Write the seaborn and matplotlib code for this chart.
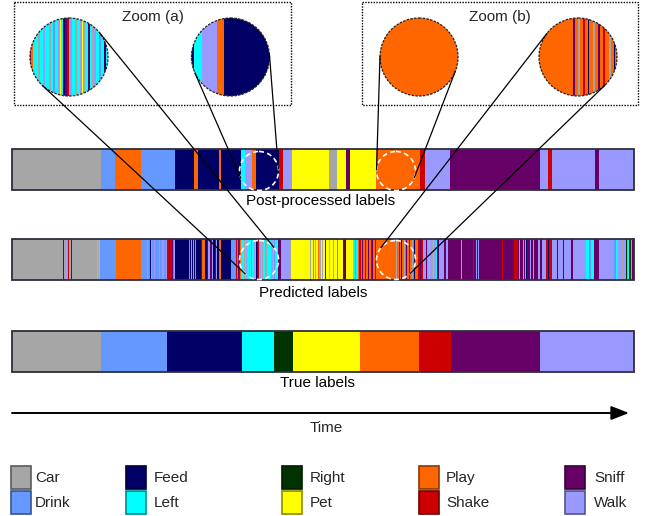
import numpy as np
import matplotlib
matplotlib.use("Agg")
import matplotlib.pyplot as plt
from matplotlib.patches import Circle, Rectangle
import seaborn as sns

sns.set_theme(style="white")
plt.rcParams["font.family"] = ["Liberation Sans", "DejaVu Sans"]

# ---------------------------------------------------------------- data
activities = ["Car", "Drink", "Feed", "Left", "Right",
              "Pet", "Play", "Shake", "Sniff", "Walk"]
activity_colors = ["#A6A6A6", "#6699FF", "#000066", "#00FFFF", "#003300",
                   "#FFFF00", "#FF6600", "#CC0000", "#660066", "#9999FF"]
n_frames = 622

# ground truth: one segment per activity (label, first frame)
true_labels = ["Car", "Drink", "Feed", "Left", "Right",
               "Pet", "Play", "Shake", "Sniff", "Walk"]
true_starts = [0, 89, 155, 230, 262, 281, 348, 407, 439, 528]

# smoothed classifier output
post_labels = ["Car", "Drink", "Play", "Drink", "Feed", "Play", "Feed", "Play",
               "Feed", "Left", "Walk", "Play", "Feed", "Shake", "Walk", "Pet",
               "Car", "Pet", "Sniff", "Pet", "Play", "Shake", "Walk", "Sniff",
               "Walk", "Shake", "Walk", "Sniff", "Walk"]
post_starts = [0, 89, 103, 128.5, 162.5, 182, 186, 207,
               209, 228.5, 232.5, 240, 243.5, 266.5, 271, 280,
               317, 324.5, 334, 338, 364, 408, 413, 438,
               528, 535.5, 539.5, 583, 587]

# raw frame-wise classifier output
pred_labels = [
    "Car", "Sniff", "Car", "Walk", "Car", "Shake", "Car", "Sniff", "Car",
    "Left", "Car", "Left", "Drink", "Play", "Drink",
    "Walk", "Drink", "Feed", "Walk", "Drink", "Walk", "Drink", "Feed", "Drink", "Walk", "Drink", "Walk", "Drink", "Walk",
    "Shake", "Sniff", "Play", "Shake", "Sniff", "Play", "Walk",
    "Feed", "Drink", "Feed", "Walk", "Feed", "Car", "Feed", "Drink", "Feed",
    "Sniff", "Play", "Feed", "Sniff", "Walk", "Sniff", "Walk", "Feed", "Sniff", "Walk", "Feed", "Play", "Feed",
    "Drink", "Shake", "Play", "Sniff", "Shake", "Play", "Left",
    "Car", "Left", "Walk", "Left", "Car", "Left", "Drink", "Left", "Walk", "Pet", "Left", "Feed", "Sniff", "Shake",
    "Walk", "Left", "Car", "Left", "Walk", "Pet", "Car", "Left", "Sniff", "Left", "Car", "Walk", "Left", "Drink",
    "Left", "Feed", "Left",
    "Sniff", "Shake", "Sniff", "Walk", "Car", "Pet",
    "Car", "Pet", "Play", "Pet", "Car", "Pet", "Play", "Car", "Pet", "Car", "Pet", "Sniff", "Pet", "Left", "Pet",
    "Car", "Pet", "Play", "Pet", "Sniff", "Pet",
    "Left", "Play", "Left", "Play", "Shake", "Play", "Sniff", "Play", "Shake", "Play", "Sniff", "Play", "Shake",
    "Sniff", "Play", "Shake", "Play",
    "Sniff", "Play", "Car", "Play", "Shake", "Play", "Feed", "Play", "Car", "Play", "Sniff", "Play", "Shake",
    "Play", "Car", "Play", "Feed", "Play",
    "Shake", "Sniff", "Shake",
    "Walk", "Sniff", "Walk", "Left", "Walk", "Car", "Left", "Walk", "Left", "Sniff", "Walk", "Car", "Walk",
    "Sniff", "Walk", "Sniff",
    "Walk", "Sniff", "Shake", "Sniff", "Walk", "Sniff", "Walk", "Sniff",
    "Walk", "Sniff", "Shake", "Sniff", "Shake", "Sniff", "Walk", "Sniff", "Walk", "Sniff", "Walk", "Feed",
    "Sniff", "Walk", "Sniff", "Walk", "Sniff", "Walk", "Sniff", "Walk",
    "Shake", "Feed", "Shake", "Walk", "Sniff", "Walk", "Sniff", "Walk", "Sniff", "Walk",
    "Left", "Drink", "Left", "Sniff", "Walk", "Drink", "Left", "Walk", "Car", "Walk", "Car", "Right",
    "Walk", "Left", "Right", "Walk", "Sniff",
]
pred_starts = [
    0, 51, 51.6, 54, 54.8, 56, 56.6, 59.4, 60,
    84.5, 85.5, 86.5, 88, 103.5, 128.5,
    135, 136, 138, 138.7, 140.2, 141.7, 142.7, 144.7, 145.4, 146.9, 148.4, 150.4, 152, 153.5,
    155, 156.5, 157.5, 158.3, 159.8, 160.8, 161.5,
    163, 177, 177.8, 179, 179.8, 181, 181.7, 183, 183.7,
    189, 190, 193, 194.5, 196, 197.5, 199.5, 201, 202.5, 204, 205, 206.5, 209,
    219, 224, 225, 226, 227, 228, 229,
    231.5, 232.5, 234, 235, 237, 238, 239, 240, 241.5, 242.5, 243, 244, 245, 246,
    247, 248.5, 250, 251, 252.5, 253.5, 254, 255, 256.5, 257.3, 258.5, 259.5, 260.5, 262,
    263, 264.5, 265.3,
    266.3, 267.5, 268.3, 269, 277.5, 279,
    298, 299, 300.5, 301.5, 303, 304, 306, 307, 308.5, 310, 311, 313, 314, 317, 318,
    321, 322, 325, 326, 331, 334,
    341, 342.5, 344, 345.5, 347, 348.5, 350, 351, 353, 354, 355.5, 356.5, 358.5,
    360, 361, 362.5, 363.5,
    381.5, 382.3, 384, 385, 386.5, 387.5, 389, 389.7, 391.5, 392.5, 394, 395, 396.5,
    397.5, 399.5, 400.5, 402, 402.7,
    406, 408, 409,
    411, 413.5, 414.5, 417, 418, 419.5, 420.5, 422, 424, 425, 426.5, 429, 430,
    432, 433.5, 435.5,
    449, 450, 461, 462, 463.5, 464.5, 466, 467,
    484.5, 485.3, 490, 490.7, 502, 505.5, 507, 508, 510.5, 511.5, 513, 514,
    515, 518, 519, 521, 522, 526, 527.5, 530,
    534, 536, 537, 540, 545, 546, 551, 552, 559, 561,
    574, 577, 578.5, 582, 587, 602, 604, 605.5, 609, 611, 612.5, 614,
    615, 616, 617, 618.5, 620,
]

legend_columns = [["Car", "Drink"], ["Feed", "Left"], ["Right", "Pet"],
                  ["Play", "Shake"], ["Sniff", "Walk"]]

palette = dict(zip(activities, sns.color_palette(activity_colors)))

# ---------------------------------------------------------------- canvas
W, H = 649, 516
fig = plt.figure(figsize=(W / 100, H / 100), dpi=100)
ax = fig.add_axes([0, 0, 1, 1])
ax.set_xlim(0, W)
ax.set_ylim(H, 0)
ax.axis("off")

X0 = 12.0          # left edge of the strips; one pixel per frame
STRIP_H = 41.0
TOP = {"post": 149.0, "pred": 239.0, "true": 331.0}
SEAM = 0.45        # overlap so neighbouring stripes do not leave white seams


def draw_strip(labels, starts, xmap, yc, height, clip=None, z=2):
    s = np.asarray(starts, float)
    e = np.append(s[1:], n_frames)
    left = xmap(X0 + s)
    right = xmap(X0 + e)
    widths = right - left
    widths[:-1] += SEAM
    bars = ax.barh(np.full(len(labels), yc), widths, left=left, height=height,
                   color=[palette[l] for l in labels], linewidth=0, zorder=z)
    if clip is not None:
        for b in bars:
            b.set_clip_path(clip)


def ident(x):
    return x


strips = {"post": (post_labels, post_starts),
          "pred": (pred_labels, pred_starts),
          "true": (true_labels, true_starts)}
for key, (lab, st) in strips.items():
    draw_strip(lab, st, ident, TOP[key] + STRIP_H / 2, STRIP_H)
    ax.add_patch(Rectangle((X0, TOP[key]), n_frames, STRIP_H, fill=False,
                           edgecolor="#2e2e3c", linewidth=1.3, zorder=4))

label_text = {"post": ("Post-processed labels", 321, 201),
              "pred": ("Predicted labels", 313, 293),
              "true": ("True labels", 317, 383)}
for txt, x, y in label_text.values():
    ax.text(x, y, txt, ha="center", va="center", fontsize=11, color="black")

# ---------------------------------------------------------------- zoom views
SMALL_R, BIG_R = 19.5, 39.0
MAG = BIG_R / SMALL_R
small = {("a", "post"): (259.0, 171.0), ("a", "pred"): (259.0, 260.0),
         ("b", "post"): (396.0, 171.0), ("b", "pred"): (396.0, 260.0)}
big = {("a", "pred"): (69.0, 57.0), ("a", "post"): (230.5, 57.0),
       ("b", "post"): (419.0, 57.0), ("b", "pred"): (578.0, 57.0)}


def tangents(c1, r1, c2, r2):
    c1, c2 = np.asarray(c1), np.asarray(c2)
    d = c2 - c1
    D = np.hypot(*d)
    u = d / D
    perp = np.array([-u[1], u[0]])
    a = (r2 - r1) / D
    b = np.sqrt(1 - a * a)
    out = []
    for sgn in (1, -1):
        n = a * u + sgn * b * perp
        out.append((c1 - r1 * n, c2 - r2 * n))
    return out


for key, (bx, by) in big.items():
    sx, sy = small[key]
    lab, st = strips[key[1]]
    clip = Circle((bx, by), BIG_R, transform=ax.transData)
    draw_strip(lab, st, lambda x, sx=sx, bx=bx: bx + (x - sx) * MAG,
               by, STRIP_H * MAG, clip=clip, z=3)
    ax.add_patch(Circle((bx, by), BIG_R, fill=False, edgecolor="#222222",
                        linewidth=0.9, linestyle=(0, (2, 1)), zorder=5))
    ax.add_patch(Circle((sx, sy), SMALL_R, fill=False, edgecolor="white",
                        linewidth=1.2, linestyle=(0, (3, 2)), zorder=5))
    for p, q in tangents((bx, by), BIG_R, (sx, sy), SMALL_R):
        ax.plot([p[0], q[0]], [p[1], q[1]], color="black", linewidth=0.9,
                zorder=6, solid_capstyle="butt")

for x0, x1, name in [(14, 291, "Zoom (a)"), (362, 638, "Zoom (b)")]:
    ax.add_patch(Rectangle((x0, 2), x1 - x0, 103, fill=False, edgecolor="black",
                           linewidth=1.0, linestyle=(0, (1, 1)), zorder=5))
    ax.text((x0 + x1) / 2, 17, name, ha="center", va="center", fontsize=11)

# ---------------------------------------------------------------- time axis
ax.annotate("", xy=(629, 413), xytext=(12, 413),
            arrowprops=dict(arrowstyle="-|>,head_length=0.9,head_width=0.35",
                            color="black", lw=1.4, shrinkA=0, shrinkB=0))
ax.text(326, 428, "Time", ha="center", va="center", fontsize=11)

# ---------------------------------------------------------------- legend
sq_x = [11, 126, 282, 419, 565]
tx_x = [35, 154, 310, 446, 594]
row_top = [466, 491]
row_txt = [478, 503]
for ci, col in enumerate(legend_columns):
    for ri, name in enumerate(col):
        face = np.array(palette[name])
        ax.add_patch(Rectangle((sq_x[ci], row_top[ri]), 19.5, 23, facecolor=face,
                               edgecolor=face * 0.55, linewidth=1.2, zorder=3))
        ax.text(tx_x[ci], row_txt[ri], name, ha="left", va="center", fontsize=11)

fig.savefig("out.png", dpi=100)
